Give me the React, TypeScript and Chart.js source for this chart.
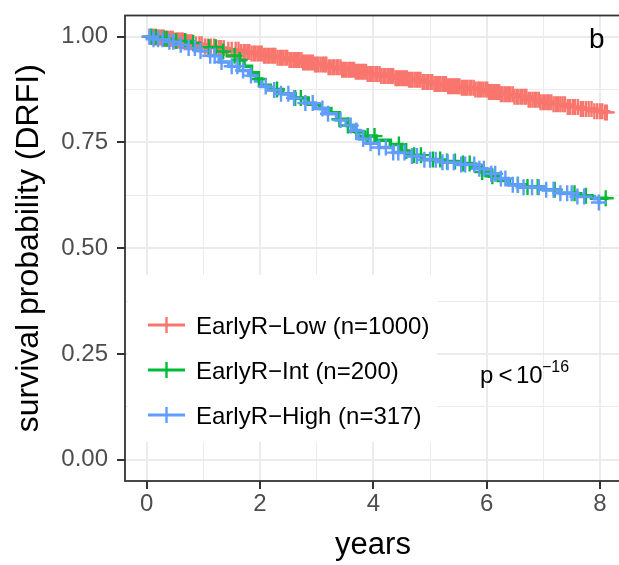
import React, { useEffect, useRef } from 'react';
import { Chart, registerables } from 'chart.js';

Chart.register(...registerables);

const FONT = "'Liberation Sans', Arial, Helvetica, sans-serif";

// ---- groups ----
const groupLabels = ['EarlyR−Low (n=1000)', 'EarlyR−Int (n=200)', 'EarlyR−High (n=317)'];
const groupColors = ['#F8766D', '#00BA38', '#619CFF'];

// ---- Kaplan-Meier curves (time in years, survival probability) ----
const lowTimes = [0, 0.15, 0.32, 0.48, 0.65, 0.83, 1.02, 1.2, 1.41, 1.63, 1.85, 2.06, 2.28, 2.51, 2.74, 2.97, 3.2, 3.44, 3.67, 3.9, 4.12, 4.37, 4.6, 4.84, 5.08, 5.31, 5.55, 5.78, 6.02, 6.25, 6.48, 6.72, 6.95, 7.18, 7.42, 7.66, 7.9, 8.05, 8.12];
const lowSurv = [1.0, 0.998, 0.995, 0.991, 0.987, 0.982, 0.977, 0.973, 0.969, 0.964, 0.96, 0.955, 0.95, 0.945, 0.939, 0.934, 0.928, 0.922, 0.917, 0.912, 0.907, 0.902, 0.898, 0.893, 0.888, 0.883, 0.879, 0.875, 0.869, 0.864, 0.858, 0.851, 0.845, 0.84, 0.834, 0.829, 0.824, 0.821, 0.821];

const intTimes = [0, 0.22, 0.45, 0.74, 0.95, 1.08, 1.25, 1.42, 1.58, 1.72, 1.85, 1.95, 2.03, 2.18, 2.4, 2.62, 2.85, 3.05, 3.25, 3.4, 3.55, 3.68, 3.85, 4.05, 4.3, 4.5, 4.62, 4.85, 5.2, 5.5, 5.75, 5.9, 6.05, 6.2, 6.4, 6.7, 7.0, 7.3, 7.6, 7.85, 8.12];
const intSurv = [1.0, 0.995, 0.99, 0.985, 0.98, 0.975, 0.965, 0.955, 0.945, 0.93, 0.915, 0.9, 0.885, 0.875, 0.865, 0.855, 0.84, 0.83, 0.82, 0.805, 0.79, 0.775, 0.765, 0.755, 0.745, 0.73, 0.72, 0.71, 0.705, 0.7, 0.69, 0.68, 0.67, 0.66, 0.65, 0.645, 0.638, 0.63, 0.624, 0.618, 0.614];

const highTimes = [0, 0.12, 0.3, 0.52, 0.72, 0.95, 1.1, 1.28, 1.45, 1.62, 1.8, 1.92, 2.02, 2.15, 2.35, 2.55, 2.78, 2.98, 3.15, 3.35, 3.52, 3.65, 3.76, 3.88, 4.1, 4.35, 4.6, 4.9, 5.2, 5.5, 5.8, 6.0, 6.22, 6.38, 6.6, 7.0, 7.3, 7.6, 7.9, 7.98, 8.02];
const highSurv = [1.0, 0.994, 0.988, 0.981, 0.973, 0.966, 0.955, 0.94, 0.93, 0.92, 0.908, 0.895, 0.882, 0.874, 0.865, 0.855, 0.843, 0.83, 0.818, 0.803, 0.79, 0.778, 0.758, 0.748, 0.738, 0.726, 0.718, 0.709, 0.703, 0.698, 0.688, 0.676, 0.665, 0.65, 0.644, 0.638, 0.63, 0.622, 0.617, 0.608, 0.608];

// ---- censoring times (years) ----
const lowCensor = [0.05, 0.07, 0.1, 0.12, 0.15, 0.17, 0.2, 0.22, 0.25, 0.27, 0.3, 0.33, 0.35, 0.38, 0.41, 0.43, 0.46, 0.48, 0.51, 0.54, 0.56, 0.59, 0.62, 0.64, 0.67, 0.7, 0.73, 0.76, 0.8, 0.87, 0.93, 0.97, 1.03, 1.08, 1.13, 1.19, 1.27, 1.31, 1.36, 1.44, 1.5, 1.57, 1.62, 1.66, 1.71, 1.74, 1.78, 1.81, 1.85, 1.89, 1.92, 1.96, 2.0, 2.03, 2.07, 2.1, 2.14, 2.17, 2.21, 2.24, 2.27, 2.31, 2.35, 2.38, 2.41, 2.45, 2.48, 2.52, 2.55, 2.59, 2.62, 2.65, 2.69, 2.73, 2.76, 2.79, 2.83, 2.86, 2.9, 2.93, 2.97, 3.0, 3.03, 3.07, 3.11, 3.14, 3.17, 3.21, 3.24, 3.28, 3.31, 3.35, 3.38, 3.42, 3.45, 3.48, 3.52, 3.56, 3.59, 3.62, 3.66, 3.69, 3.73, 3.76, 3.8, 3.83, 3.87, 3.9, 3.94, 3.97, 4.0, 4.04, 4.07, 4.11, 4.14, 4.18, 4.21, 4.25, 4.28, 4.31, 4.35, 4.39, 4.42, 4.45, 4.49, 4.52, 4.56, 4.59, 4.63, 4.66, 4.69, 4.73, 4.77, 4.8, 4.83, 4.87, 4.9, 4.94, 4.97, 5.01, 5.04, 5.08, 5.11, 5.14, 5.18, 5.22, 5.25, 5.28, 5.32, 5.35, 5.39, 5.42, 5.46, 5.49, 5.52, 5.56, 5.6, 5.63, 5.66, 5.7, 5.73, 5.77, 5.8, 5.84, 5.87, 5.9, 5.94, 5.98, 6.01, 6.04, 6.08, 6.11, 6.15, 6.18, 6.22, 6.25, 6.28, 6.32, 6.36, 6.39, 6.42, 6.46, 6.49, 6.53, 6.56, 6.6, 6.63, 6.67, 6.7, 6.74, 6.77, 6.81, 6.85, 6.88, 6.92, 6.95, 6.99, 7.03, 7.07, 7.1, 7.14, 7.18, 7.22, 7.26, 7.3, 7.34, 7.38, 7.43, 7.47, 7.52, 7.56, 7.61, 7.66, 7.7, 7.75, 7.8, 7.85, 7.9, 7.95, 8.0, 8.04, 8.09, 8.12];
const intCensor = [0.08, 0.16, 0.3, 0.35, 0.52, 0.68, 0.82, 1.1, 1.22, 1.35, 1.55, 1.64, 1.98, 2.3, 2.62, 2.72, 3.4, 3.55, 3.7, 3.9, 4.02, 4.45, 4.58, 4.72, 4.84, 5.05, 5.18, 5.3, 5.44, 5.58, 5.7, 5.92, 6.1, 6.55, 6.72, 6.9, 7.2, 7.55, 7.75, 8.1];
const highCensor = [0.05, 0.12, 0.2, 0.28, 0.4, 0.47, 0.6, 0.74, 0.85, 0.95, 1.12, 1.2, 1.32, 1.5, 1.6, 1.7, 1.84, 2.1, 2.25, 2.37, 2.5, 2.6, 2.8, 2.93, 3.1, 3.2, 3.42, 3.6, 3.7, 3.82, 3.95, 4.1, 4.22, 4.35, 4.44, 4.55, 4.68, 4.77, 4.9, 5.0, 5.1, 5.22, 5.31, 5.42, 5.55, 5.62, 5.78, 5.87, 5.95, 6.08, 6.15, 6.25, 6.33, 6.46, 6.55, 6.65, 6.8, 6.92, 7.05, 7.18, 7.3, 7.42, 7.5, 7.6, 7.72, 7.98];

// ---- axes ----
const xMajorTicks = [0, 2, 4, 6, 8];
const xTickLabels = ['0', '2', '4', '6', '8'];
const xMinorTicks = [1, 3, 5, 7];
const yMajorTicks = [0, 0.25, 0.5, 0.75, 1];
const yTickLabels = ['0.00', '0.25', '0.50', '0.75', '1.00'];
const yMinorTicks = [0.125, 0.375, 0.625, 0.875];

const xTitle = 'years';
const yTitle = 'survival probability (DRFI)';
const panelTag = 'b';
const pMain = ['p', '<', '10'];
const pExponent = '−16';

function survAt(times: number[], surv: number[], t: number) {
  let s = surv[0];
  for (let i = 0; i < times.length; i++) {
    if (times[i] <= t) s = surv[i];
    else break;
  }
  return s;
}

const overlay = {
  id: 'overlay',
  beforeDatasetsDraw(chart: any) {
    const ctx = chart.ctx;
    ctx.save();
    // legend background (covers grid)
    ctx.fillStyle = '#ffffff';
    ctx.fillRect(128, 275, 309, 167);
    const lines = chart.data.datasets.filter((d: any) => d.isCurve);
    lines.forEach((d: any, i: number) => {
      const cy = 325 + i * 45;
      ctx.strokeStyle = d.borderColor;
      ctx.lineWidth = 3.2;
      ctx.beginPath();
      ctx.moveTo(148, cy);
      ctx.lineTo(185, cy);
      ctx.stroke();
      ctx.lineWidth = 2.4;
      ctx.beginPath();
      ctx.moveTo(166.5, cy - 8);
      ctx.lineTo(166.5, cy + 8);
      ctx.stroke();
      ctx.fillStyle = '#000000';
      ctx.font = `24px ${FONT}`;
      ctx.textBaseline = 'alphabetic';
      ctx.textAlign = 'left';
      ctx.fillText(d.label, 196, cy + 8.6);
    });
    ctx.restore();
  },
  afterDraw(chart: any) {
    const ctx = chart.ctx;
    const a = chart.chartArea;
    ctx.save();
    // p-value
    ctx.fillStyle = '#000000';
    ctx.textBaseline = 'alphabetic';
    ctx.textAlign = 'left';
    ctx.font = `24px ${FONT}`;
    ctx.fillText(pMain[0], 480, 383.3);
    ctx.fillText(pMain[1], 498.5, 383.3);
    ctx.fillText(pMain[2], 516, 383.3);
    ctx.font = `16px ${FONT}`;
    ctx.fillText(pExponent, 542, 371.7);
    // panel tag
    ctx.font = `28px ${FONT}`;
    ctx.fillText(panelTag, 589, 48.3);
    // panel border
    ctx.strokeStyle = '#333333';
    ctx.lineWidth = 1.8;
    ctx.strokeRect(a.left, a.top, a.right - a.left, a.bottom - a.top);
    ctx.restore();
  },
};

export default function App() {
  const ref = useRef<HTMLCanvasElement>(null);
  useEffect(() => {
    const canvas = ref.current as HTMLCanvasElement;
    const curve = (times: number[], surv: number[]) => times.map((t, i) => ({ x: t, y: surv[i] }));
    const cens = (times: number[], surv: number[], c: number[]) => c.map((t) => ({ x: t, y: survAt(times, surv, t) }));
    const curves = [
      [lowTimes, lowSurv, lowCensor],
      [intTimes, intSurv, intCensor],
      [highTimes, highSurv, highCensor],
    ];
    const lineSets = curves.map((c, i) => ({
      type: 'line',
      isCurve: true,
      label: groupLabels[i],
      data: curve(c[0], c[1]),
      borderColor: groupColors[i],
      backgroundColor: groupColors[i],
      borderWidth: 3.5,
      stepped: 'before',
      pointRadius: 0,
      fill: false,
      order: 10 - i,
    }));
    const censorSets = curves.map((c, i) => ({
      type: 'scatter',
      label: groupLabels[i] + ' censor',
      data: cens(c[0], c[1], c[2]),
      showLine: false,
      pointStyle: 'cross',
      pointRadius: 8,
      pointBorderWidth: 2.4,
      pointBorderColor: groupColors[i],
      borderColor: groupColors[i],
      backgroundColor: groupColors[i],
      order: 5 - i,
    }));
    const isXMajor = (v: number) => xMajorTicks.includes(v);
    const isYMajor = (v: number) => yMajorTicks.includes(v);
    const chart = new Chart(canvas, {
      type: 'line',
      data: { datasets: [...lineSets, ...censorSets] as any },
      options: {
        animation: false,
        responsive: false,
        devicePixelRatio: 1,
        events: [],
        layout: { padding: { top: 15.5, left: 0, right: 19, bottom: 0 } },
        plugins: { legend: { display: false }, tooltip: { enabled: false } },
        scales: {
          x: {
            type: 'linear',
            min: -0.383,
            max: 8.37,
            afterBuildTicks: (s: any) => {
              s.ticks = [...xMajorTicks, ...xMinorTicks].sort((a, b) => a - b).map((v) => ({ value: v }));
            },
            afterFit: (s: any) => {
              s.height = 84;
              s.paddingLeft = 0;
              s.paddingRight = 0;
            },
            border: { display: false },
            grid: {
              color: '#EBEBEB',
              lineWidth: (ctx: any) => (ctx.tick && isXMajor(ctx.tick.value) ? 2 : 1),
              drawTicks: true,
              tickLength: 8,
              tickWidth: 2,
              tickColor: (ctx: any) => (ctx.tick && isXMajor(ctx.tick.value) ? '#333333' : 'rgba(0,0,0,0)'),
            },
            ticks: {
              autoSkip: false,
              maxRotation: 0,
              padding: 1,
              color: '#4D4D4D',
              font: { family: FONT, size: 24 },
              callback: (v: any) => {
                const i = xMajorTicks.indexOf(Number(v));
                return i >= 0 ? xTickLabels[i] : '';
              },
            },
            title: {
              display: true,
              text: xTitle,
              color: '#000000',
              font: { family: FONT, size: 31 },
              padding: { top: 0, bottom: 1 },
            },
          },
          y: {
            type: 'linear',
            min: -0.05,
            max: 1.05,
            afterBuildTicks: (s: any) => {
              s.ticks = [...yMajorTicks, ...yMinorTicks].sort((a, b) => a - b).map((v) => ({ value: v }));
            },
            afterFit: (s: any) => {
              s.width = 125;
              s.paddingTop = 0;
              s.paddingBottom = 0;
            },
            border: { display: false },
            grid: {
              color: '#EBEBEB',
              lineWidth: (ctx: any) => (ctx.tick && isYMajor(ctx.tick.value) ? 2 : 1),
              drawTicks: true,
              tickLength: 8,
              tickWidth: 2,
              tickColor: (ctx: any) => (ctx.tick && isYMajor(ctx.tick.value) ? '#333333' : 'rgba(0,0,0,0)'),
            },
            ticks: {
              autoSkip: false,
              padding: 9,
              color: '#4D4D4D',
              font: { family: FONT, size: 24 },
              callback: (v: any) => {
                const i = yMajorTicks.indexOf(Number(v));
                return i >= 0 ? yTickLabels[i] : '';
              },
            },
            title: {
              display: true,
              text: yTitle,
              color: '#000000',
              font: { family: FONT, size: 32 },
              padding: { top: 10, bottom: 0 },
            },
          },
        },
      } as any,
      plugins: [overlay],
    });
    return () => chart.destroy();
  }, []);
  return (
    <div style={{ position: 'absolute', left: 0, top: 0, width: 619, height: 565, overflow: 'hidden', background: '#ffffff' }}>
      <canvas ref={ref} width={640} height={565} style={{ display: 'block' }} />
    </div>
  );
}
